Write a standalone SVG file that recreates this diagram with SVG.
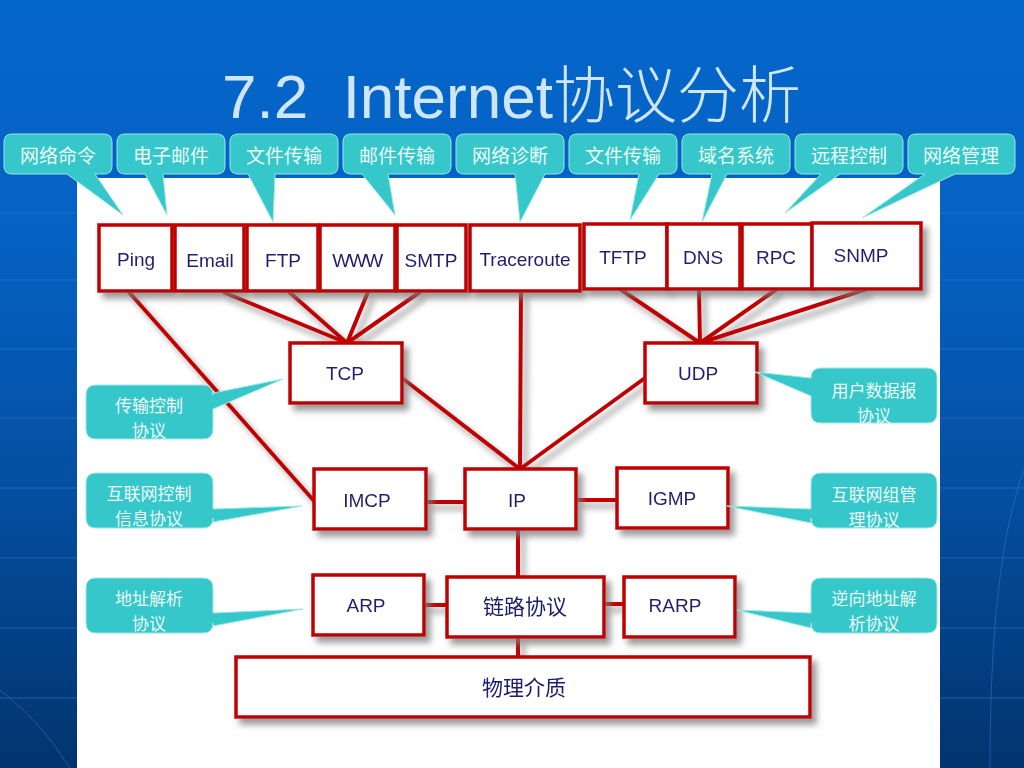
<svg xmlns="http://www.w3.org/2000/svg" width="1024" height="768" viewBox="0 0 1024 768">
  <defs>
    <linearGradient id="bg" x1="0" y1="0" x2="0" y2="1">
      <stop offset="0" stop-color="#0566c9"/>
      <stop offset="0.3" stop-color="#0562c4"/>
      <stop offset="0.65" stop-color="#044e9f"/>
      <stop offset="1" stop-color="#02346e"/>
    </linearGradient>
    <filter id="shadow" x="-10%" y="-10%" width="130%" height="140%">
      <feDropShadow dx="5" dy="6" stdDeviation="3" flood-color="#7a7a7a" flood-opacity="0.75"/>
    </filter>
    <style>
      .box { fill: #ffffff; stroke: #c00000; stroke-width: 3.5; }
      .lbl { font-family: "Liberation Sans", Arial, sans-serif; font-size: 19px; fill: #231f6f; text-anchor: middle; dominant-baseline: central; }
      .cjk { font-family: "Noto Sans CJK SC", "Liberation Sans", sans-serif; font-size: 21px; fill: #1a1a6a; text-anchor: middle; dominant-baseline: central; }
      .call { fill: #35c7c9; stroke: #9fe6e6; stroke-width: 1; }
      .ct { font-family: "Noto Sans CJK SC", sans-serif; font-size: 19px; fill: #eefafa; text-anchor: middle; dominant-baseline: central; }
      .ct2 { font-family: "Noto Sans CJK SC", sans-serif; font-size: 17px; fill: #eefafa; text-anchor: middle; dominant-baseline: central; }
      .wire { stroke: #c00000; stroke-width: 4; fill: none; stroke-linecap: butt; }
      .grid { stroke: #3d86d6; stroke-width: 1; opacity: 0.45; fill: none; }
    </style>
  </defs>

  <!-- slide background -->
  <rect x="0" y="0" width="1024" height="768" fill="url(#bg)"/>
  <g class="grid">
    <line x1="0" y1="213" x2="77" y2="213"/>
    <line x1="0" y1="280" x2="77" y2="280"/>
    <line x1="0" y1="349" x2="77" y2="349"/>
    <line x1="0" y1="418" x2="77" y2="418"/>
    <line x1="0" y1="488" x2="77" y2="488"/>
    <line x1="0" y1="558" x2="77" y2="558"/>
    <line x1="0" y1="628" x2="77" y2="628"/>
    <line x1="0" y1="698" x2="77" y2="698"/>
    <line x1="940" y1="213" x2="1024" y2="213"/>
    <line x1="940" y1="280" x2="1024" y2="280"/>
    <line x1="940" y1="349" x2="1024" y2="349"/>
    <line x1="940" y1="418" x2="1024" y2="418"/>
    <line x1="940" y1="488" x2="1024" y2="488"/>
    <line x1="940" y1="558" x2="1024" y2="558"/>
    <line x1="940" y1="628" x2="1024" y2="628"/>
    <line x1="940" y1="698" x2="1024" y2="698"/>
    <path d="M0 690 Q40 720 70 768"/>
    <path d="M1024 470 Q990 560 990 768"/>
  </g>

  <!-- white content panel -->
  <rect x="77" y="178" width="863" height="590" fill="#ffffff"/>

  <!-- title -->
  <text x="222" y="118" xml:space="preserve" font-family="'Liberation Sans', 'Noto Sans CJK SC', sans-serif" font-size="62" fill="#cfe6f8">7.2  Internet<tspan font-family="'Noto Sans CJK SC', sans-serif" font-weight="300">协议分析</tspan></text>

  <!-- connectors -->
  <g id="connectors" filter="url(#shadow)">
    <line class="wire" x1="128" y1="291" x2="315" y2="502"/>
    <line class="wire" x1="223" y1="292" x2="347" y2="343"/>
    <line class="wire" x1="288" y1="291" x2="347" y2="343"/>
    <line class="wire" x1="368" y1="292" x2="347" y2="343"/>
    <line class="wire" x1="420" y1="292" x2="347" y2="343"/>
    <line class="wire" x1="402" y1="378" x2="520" y2="469"/>
    <line class="wire" x1="521" y1="291" x2="520" y2="469"/>
    <line class="wire" x1="645" y1="378" x2="520" y2="469"/>
    <line class="wire" x1="620" y1="289" x2="700" y2="343"/>
    <line class="wire" x1="699" y1="289" x2="700" y2="343"/>
    <line class="wire" x1="777" y1="289" x2="700" y2="343"/>
    <line class="wire" x1="867" y1="289" x2="700" y2="343"/>
    <line class="wire" x1="426" y1="502" x2="465" y2="502" stroke-width="5"/>
    <line class="wire" x1="576" y1="500" x2="617" y2="500" stroke-width="5"/>
    <line class="wire" x1="518" y1="529" x2="518" y2="577"/>
    <line class="wire" x1="424" y1="605" x2="447" y2="605" stroke-width="5"/>
    <line class="wire" x1="604" y1="604" x2="624" y2="604" stroke-width="5"/>
    <line class="wire" x1="518" y1="637" x2="518" y2="657"/>
  </g>

  <!-- application layer -->
  <g id="ping" filter="url(#shadow)"><rect class="box" x="99" y="225" width="73" height="66"/><text class="lbl" x="136" y="259">Ping</text></g>
  <g id="email" filter="url(#shadow)"><rect class="box" x="175" y="225" width="69" height="66"/><text class="lbl" x="210" y="260">Email</text></g>
  <g id="ftp" filter="url(#shadow)"><rect class="box" x="247" y="225" width="71" height="66"/><text class="lbl" x="283" y="260">FTP</text></g>
  <g id="www" filter="url(#shadow)"><rect class="box" x="320" y="225" width="75" height="66"/><text class="lbl" x="357" y="260" letter-spacing="-1.5">WWW</text></g>
  <g id="smtp" filter="url(#shadow)"><rect class="box" x="397" y="225" width="69" height="66"/><text class="lbl" x="431" y="260">SMTP</text></g>
  <g id="traceroute" filter="url(#shadow)"><rect class="box" x="470" y="225" width="110" height="66"/><text class="lbl" x="525" y="259" font-size="18">Traceroute</text></g>
  <g id="tftp" filter="url(#shadow)"><rect class="box" x="584" y="224" width="83" height="65"/><text class="lbl" x="623" y="257">TFTP</text></g>
  <g id="dns" filter="url(#shadow)"><rect class="box" x="667" y="224" width="73" height="65"/><text class="lbl" x="703" y="257">DNS</text></g>
  <g id="rpc" filter="url(#shadow)"><rect class="box" x="742" y="224" width="70" height="65"/><text class="lbl" x="776" y="257">RPC</text></g>
  <g id="snmp" filter="url(#shadow)"><rect class="box" x="812" y="223" width="109" height="66"/><text class="lbl" x="861" y="255">SNMP</text></g>

  <!-- transport layer -->
  <g id="tcp" filter="url(#shadow)"><rect class="box" x="290" y="343" width="112" height="60"/><text class="lbl" x="345" y="373">TCP</text></g>
  <g id="udp" filter="url(#shadow)"><rect class="box" x="645" y="343" width="112" height="60"/><text class="lbl" x="698" y="373">UDP</text></g>

  <!-- network layer -->
  <g id="imcp" filter="url(#shadow)"><rect class="box" x="314" y="469" width="112" height="60"/><text class="lbl" x="367" y="500">IMCP</text></g>
  <g id="ip" filter="url(#shadow)"><rect class="box" x="465" y="469" width="111" height="60"/><text class="lbl" x="517" y="500">IP</text></g>
  <g id="igmp" filter="url(#shadow)"><rect class="box" x="617" y="468" width="111" height="60"/><text class="lbl" x="672" y="498">IGMP</text></g>

  <!-- link layer -->
  <g id="arp" filter="url(#shadow)"><rect class="box" x="313" y="575" width="111" height="60"/><text class="lbl" x="366" y="605">ARP</text></g>
  <g id="link" filter="url(#shadow)"><rect class="box" x="447" y="577" width="157" height="60"/><text class="cjk" x="525" y="605">链路协议</text></g>
  <g id="rarp" filter="url(#shadow)"><rect class="box" x="624" y="577" width="111" height="60"/><text class="lbl" x="675" y="605">RARP</text></g>

  <!-- physical medium -->
  <g id="medium" filter="url(#shadow)"><rect class="box" x="236" y="657" width="574" height="60"/><text class="cjk" x="524" y="686">物理介质</text></g>

  <!-- top callouts -->
  <g id="c-ping"><path class="call" d="M12 134 H104 Q112 134 112 142 V166 Q112 174 104 174 H95 L123 215 L67 174 H12 Q4 174 4 166 V142 Q4 134 12 134 Z"/><text class="ct" x="58" y="154">网络命令</text></g>
  <g id="c-email"><path class="call" d="M125 134 H217 Q225 134 225 142 V166 Q225 174 217 174 H163 L167 215 L145 174 H125 Q117 174 117 166 V142 Q117 134 125 134 Z"/><text class="ct" x="171" y="154">电子邮件</text></g>
  <g id="c-ftp"><path class="call" d="M238 134 H330 Q338 134 338 142 V166 Q338 174 330 174 H275 L273 222 L248 174 H238 Q230 174 230 166 V142 Q230 134 238 134 Z"/><text class="ct" x="284" y="154">文件传输</text></g>
  <g id="c-www"><path class="call" d="M351 134 H443 Q451 134 451 142 V166 Q451 174 443 174 H388 L395 215 L362 174 H351 Q343 174 343 166 V142 Q343 134 351 134 Z"/><text class="ct" x="397" y="154">邮件传输</text></g>
  <g id="c-trace"><path class="call" d="M464 134 H556 Q564 134 564 142 V166 Q564 174 556 174 H545 L520 222 L515 174 H464 Q456 174 456 166 V142 Q456 134 464 134 Z"/><text class="ct" x="510" y="154">网络诊断</text></g>
  <g id="c-tftp"><path class="call" d="M577 134 H669 Q677 134 677 142 V166 Q677 174 669 174 H659 L630 220 L639 174 H577 Q569 174 569 166 V142 Q569 134 577 134 Z"/><text class="ct" x="623" y="154">文件传输</text></g>
  <g id="c-dns"><path class="call" d="M690 134 H782 Q790 134 790 142 V166 Q790 174 782 174 H727 L702 222 L712 174 H690 Q682 174 682 166 V142 Q682 134 690 134 Z"/><text class="ct" x="736" y="154">域名系统</text></g>
  <g id="c-rpc"><path class="call" d="M803 134 H895 Q903 134 903 142 V166 Q903 174 895 174 H840 L785 213 L821 174 H803 Q795 174 795 166 V142 Q795 134 803 134 Z"/><text class="ct" x="849" y="154">远程控制</text></g>
  <g id="c-snmp"><path class="call" d="M916 134 H1007 Q1015 134 1015 142 V166 Q1015 174 1007 174 H955 L862 218 L925 174 H916 Q908 174 908 166 V142 Q908 134 916 134 Z"/><text class="ct" x="961" y="154">网络管理</text></g>

  <!-- side callouts -->
  <g id="c-tcp"><path class="call" stroke="none" d="M96 385 H203 Q213 385 213 395 V393 L283 379 L213 409 V429 Q213 439 203 439 H96 Q86 439 86 429 V395 Q86 385 96 385 Z"/><text class="ct2" x="149" y="404">传输控制</text><text class="ct2" x="149" y="429">协议</text></g>
  <g id="c-icmp"><path class="call" stroke="none" d="M96 473 H203 Q213 473 213 483 V509 L302 506 L213 522 V518 Q213 528 203 528 H96 Q86 528 86 518 V483 Q86 473 96 473 Z"/><text class="ct2" x="149" y="492">互联网控制</text><text class="ct2" x="149" y="517">信息协议</text></g>
  <g id="c-arp"><path class="call" stroke="none" d="M96 578 H203 Q213 578 213 588 V613 L303 609 L213 626 V623 Q213 633 203 633 H96 Q86 633 86 623 V588 Q86 578 96 578 Z"/><text class="ct2" x="149" y="597">地址解析</text><text class="ct2" x="149" y="622">协议</text></g>
  <g id="c-udp"><path class="call" stroke="none" d="M821 368 H927 Q937 368 937 378 V413 Q937 423 927 423 H821 Q811 423 811 413 V396 L755 372 L811 378 Q811 368 821 368 Z"/><text class="ct2" x="874" y="389">用户数据报</text><text class="ct2" x="874" y="414">协议</text></g>
  <g id="c-igmp"><path class="call" stroke="none" d="M821 473 H927 Q937 473 937 483 V518 Q937 528 927 528 H821 Q811 528 811 518 V523 L727 506 L811 509 V483 Q811 473 821 473 Z"/><text class="ct2" x="874" y="493">互联网组管</text><text class="ct2" x="874" y="518">理协议</text></g>
  <g id="c-rarp"><path class="call" stroke="none" d="M821 578 H927 Q937 578 937 588 V623 Q937 633 927 633 H821 Q811 633 811 623 V628 L737 610 L811 613 V588 Q811 578 821 578 Z"/><text class="ct2" x="874" y="597">逆向地址解</text><text class="ct2" x="874" y="622">析协议</text></g>
</svg>
